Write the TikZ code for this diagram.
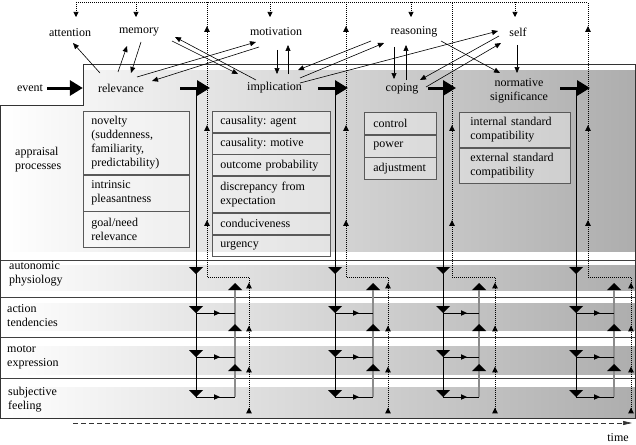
\documentclass[tikz,border=0pt]{standalone}
\usepackage{fontspec}
\setmainfont{Liberation Serif}
\usetikzlibrary{arrows.meta}
\frenchspacing
\tikzset{
  every node/.style={font=\fontsize{12}{14}\selectfont, inner sep=0pt},
  lbl/.style={align=center},
  side/.style={align=left, anchor=west},
  abox/.style={draw=black!65, line width=0.7pt, fill=white, fill opacity=0.35, text opacity=1, align=left, anchor=north west, inner xsep=8pt, inner ysep=0pt},
  tarrow/.style={line width=0.6pt, -{Triangle[length=6pt,width=5pt]}},
  bigarrow/.style={line width=3pt, -{Triangle[length=13pt,width=15pt]}},
  dotl/.style={line width=0.6pt, dash pattern=on 1pt off 1pt},
  dotarrow/.style={dotl, -{Triangle[length=5pt,width=5pt]}},
  solidl/.style={line width=0.8pt},
  greyl/.style={line width=1.5pt, draw=black!45},
  rowline/.style={line width=0.8pt, draw=black!75},
  frameline/.style={line width=0.9pt, draw=black!80},
  timearrow/.style={line width=0.7pt, draw=black!80, dash pattern=on 5pt off 3pt, -{Triangle[length=9pt,width=4pt]}},
  dtri/.pic={\fill (-7,-3.5) -- (7,-3.5) -- (0,3.5) -- cycle;},
  utri/.pic={\fill (-7,3.5) -- (7,3.5) -- (0,-3.5) -- cycle;},
  sut/.pic={\fill (-2.8,2.8) -- (2.8,2.8) -- (0,-2.8) -- cycle;},
  srt/.pic={\fill (-3,-2.8) -- (-3,2.8) -- (3,0) -- cycle;},
}
\begin{document}
\begin{tikzpicture}[x=1pt,y=-1pt]
\useasboundingbox (0,0) rectangle (636,444);
% background shading
\shade[left color=white, right color=black!32] (83,70) -- (635,70) -- (635,418) -- (0.5,418) -- (0.5,105) -- (83,105) -- cycle;
\fill[white] (0.5,252) rectangle (635,265);
\fill[white] (0.5,291) rectangle (635,303);
\fill[white] (0.5,331) rectangle (635,346);
\fill[white] (0.5,375) rectangle (635,387);
% row lines
\foreach \yy in {260,297,337,378} \draw[rowline] (0.5,\yy) -- (635,\yy);
% frame
\draw[frameline] (83,105) -- (83,64) -- (635,64) -- (635,418) -- (0.5,418) -- (0.5,105) -- cycle;

% appraisal boxes
\node[abox, text width=90pt, minimum height=63pt] (nov) at (83,111) {novelty\\(suddenness,\\familiarity,\\predictability)};
\node[abox, text width=90pt, minimum height=36pt] (pleas) at (nov.south west) {intrinsic\\pleasantness};
\node[abox, text width=90pt, minimum height=36pt] (goal) at (pleas.south west) {goal/need\\relevance};

\node[abox, text width=102pt, minimum height=21pt] (agent) at (212,111) {causality: agent};
\node[abox, text width=102pt, minimum height=21pt] (motive) at (agent.south west) {causality: motive};
\node[abox, text width=102pt, minimum height=21pt] (prob) at (motive.south west) {outcome probability};
\node[abox, text width=102pt, minimum height=36pt] (disc) at (prob.south west) {discrepancy from\\expectation};
\node[abox, text width=102pt, minimum height=21pt] (cond) at (disc.south west) {conduciveness};
\node[abox, text width=102pt, minimum height=21pt] (urg) at (cond.south west) {urgency};

\node[abox, inner xsep=9pt, text width=54pt, minimum height=22pt] (ctrl) at (364,112) {control};
\node[abox, inner xsep=9pt, text width=54pt, minimum height=22pt] (pow) at (ctrl.south west) {power};
\node[abox, inner xsep=9pt, text width=54pt, minimum height=22pt] (adj) at (pow.south west) {adjustment};

\node[abox, inner xsep=11pt, text width=89pt, minimum height=35pt] (intl) at (459,112) {internal standard\\compatibility};
\node[abox, inner xsep=11pt, text width=89pt, minimum height=35pt] (extl) at (intl.south west) {external standard\\compatibility};

% left labels
\node[side] (app) at (15,160) {appraisal\\processes};
\node[side] (auto) at (9,274) {autonomic\\physiology};
\node[side] (act) at (7,316) {action\\tendencies};
\node[side] (mot2) at (7,357) {motor\\expression};
\node[side] (subj) at (8,399.5) {subjective\\feeling};

% top dotted line
\draw[dotl] (76,2) -- (588,2);

% stages
\foreach \s/\l/\g/\r/\t in {196/207/235/249/1, 335/346/373/388/1, 443/452/479/495/0, 576/588/614/631/1}{
  \draw[dotl] (\r,413) -- (\r,277) -- (\l,277) -- (\l,2);
  \ifnum\t=1 \pic at (\l,29) {sut};\fi
  \pic at (\l,128) {sut};
  \pic at (\l,223) {sut};
  \foreach \yy in {285.5,328.5,369.5,410.5} \pic at (\r,\yy) {sut};
  \draw[greyl] (\g,397) -- (\g,287);
  \draw[solidl] (\s,88) -- (\s,397) -- (\g,397);
  \draw[solidl] (\s,313) -- (\g,313);
  \draw[solidl] (\s,357) -- (\g,357);
  \foreach \yy in {313,357,397} \pic at ({\s+21},\yy) {srt};
  \foreach \yy in {270.5,309.5,353.5,393.5} \pic at (\s,\yy) {dtri};
  \foreach \yy in {286.5,327.5,367.5} \pic at (\g,\yy) {utri};
}
\coordinate (s1) at (196,88);
\coordinate (s2) at (334,88);
\coordinate (s3) at (442,88);
\coordinate (s4) at (576,88);

% top nodes
\node[lbl] (att) at (70,33) {attention};
\node[lbl] (mem) at (139,32) {memory};
\node[lbl] (mot) at (276,32) {motivation};
\node[lbl] (rea) at (414,32) {reasoning};
\node[lbl] (self) at (518,32) {self};
\node[lbl] (event) at (30,88) {event};
\node[lbl] (rel) at (121,88) {relevance};
\node[lbl] (imp) at (274.5,88) {implication};
\node[lbl] (cop) at (402,88.5) {coping};
\node[lbl] (norm) at (519,90.5) {normative\\significance};

% dotted down arrows into top nodes
\draw[dotarrow] (76,2) -- ([shift={(6,-16)}]att.center);
\draw[dotarrow] (136,2) -- ([shift={(-3,-15)}]mem.center);
\draw[dotarrow] (270,2) -- ([shift={(-6,-15)}]mot.center);
\draw[dotarrow] (411,2) -- ([shift={(-3,-15)}]rea.center);
\draw[dotarrow] (515,2) -- ([shift={(-3,-15)}]self.center);

% big arrows
\draw[bigarrow] ([xshift=4pt]event.east) -- ([xshift=-15pt]rel.west);
\draw[bigarrow] ([xshift=-16pt]s1) -- ([xshift=14pt]s1);
\draw[bigarrow] ([xshift=-16pt]s2) -- ([xshift=14pt]s2);
\draw[bigarrow] ([xshift=-14pt]s3) -- ([xshift=14pt]s3);
\draw[bigarrow] ([xshift=-16pt]s4) -- ([xshift=14pt]s4);

% thin arrows
\draw[tarrow] ([shift={(-21,-15)}]rel.center) -- ([shift={(3,10)}]att.center);
\draw[tarrow] ([shift={(-3,-16)}]rel.center) -- ([shift={(-12,14)}]mem.center);
\draw[tarrow] ([shift={(2,10)}]mem.center) -- ([shift={(10,-15)}]rel.center);
\draw[tarrow] ([shift={(16,-11)}]rel.center) -- ([shift={(-20,10)}]mot.center);
\draw[tarrow] ([shift={(-17,15)}]mot.center) -- ([shift={(31,-7)}]rel.center);
\draw[tarrow] ([shift={(33,9)}]mem.center) -- ([shift={(-36.5,-14)}]imp.center);
\draw[tarrow] ([shift={(-18.5,-8)}]imp.center) -- ([shift={(36,5)}]mem.center);
\draw[tarrow] ([shift={(1,18)}]mot.center) -- ([shift={(2.5,-14)}]imp.center);
\draw[tarrow] ([shift={(13.5,-14)}]imp.center) -- ([shift={(12,13)}]mot.center);
\draw[tarrow] ([shift={(-43,9)}]rea.center) -- ([shift={(23.5,-18)}]imp.center);
\draw[tarrow] ([shift={(25.5,-10)}]imp.center) -- ([shift={(-30,11)}]rea.center);
\draw[tarrow] ([shift={(25.5,-5)}]imp.center) -- ([shift={(-20,-1)}]self.center);
\draw[tarrow] ([shift={(-20,15)}]rea.center) -- ([shift={(-8,-9.5)}]cop.center);
\draw[tarrow] ([shift={(4,-8.5)}]cop.center) -- ([shift={(-8,13)}]rea.center);
\draw[tarrow] ([shift={(-19,4)}]self.center) -- ([shift={(18,-8.5)}]cop.center);
\draw[tarrow] ([shift={(24,-1.5)}]cop.center) -- ([shift={(-17,11)}]self.center);
\draw[tarrow] ([shift={(27,9)}]rea.center) -- ([shift={(-19,-17.5)}]norm.center);
\draw[tarrow] ([shift={(-1,13)}]self.center) -- ([shift={(-2,-17.5)}]norm.center);

% time axis
\coordinate (t0) at (73,423);
\coordinate (t1) at (632,423);
\draw[timearrow] (t0) -- (t1);
\node[lbl] (time) at (618,438) {time};
\end{tikzpicture}
\end{document}
